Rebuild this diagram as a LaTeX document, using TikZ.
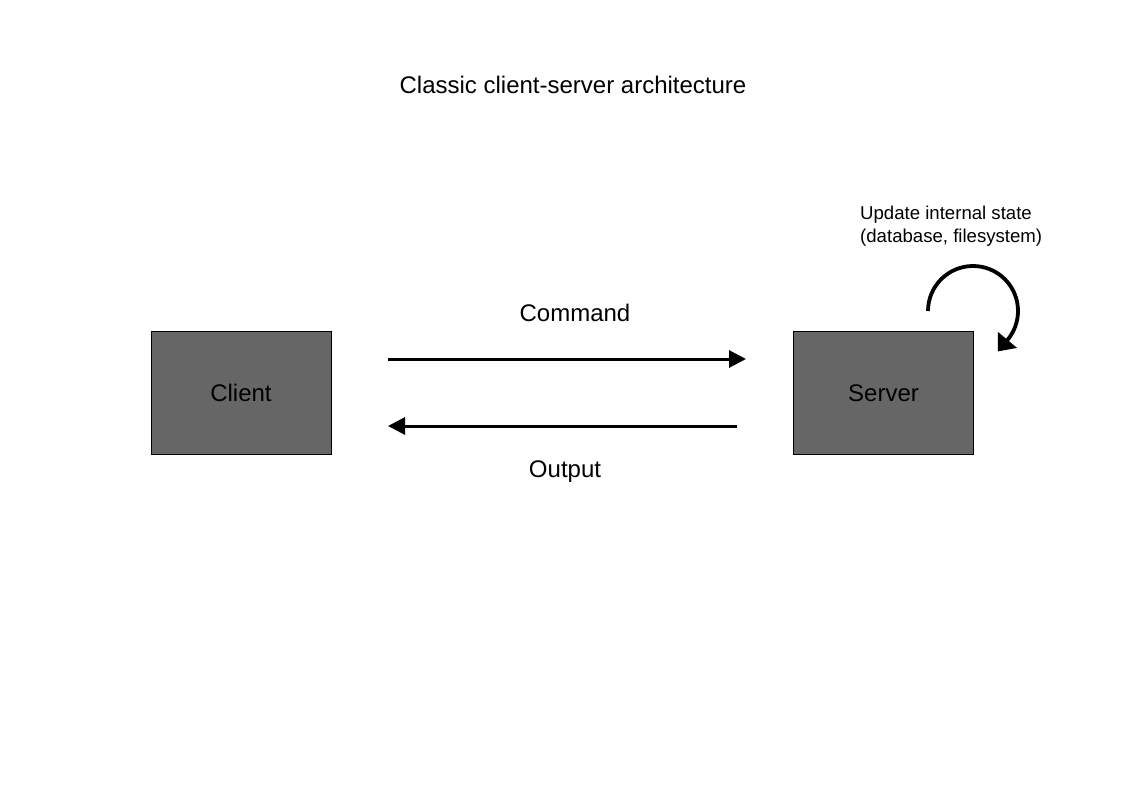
\documentclass[tikz,border=0pt]{standalone}
\usepackage{fontspec}
\setmainfont{Liberation Sans}
\usetikzlibrary{arrows.meta}
\begin{document}
\begin{tikzpicture}[x=1pt,y=-1pt,
  box/.style={draw=black, line width=0.6pt, fill={rgb,255:red,102;green,102;blue,102}, minimum width=180pt, minimum height=123pt, inner sep=0pt, font=\fontsize{24}{28}\selectfont, text height=17.2pt, text depth=0pt},
  lbl/.style={font=\fontsize{24}{28}\selectfont, inner sep=0pt},
  flow/.style={line width=3pt, -{Triangle[length=17pt,width=17pt]}}]
\path[use as bounding box, fill=white] (0,0) rectangle (1123,794);
\node[lbl] (title) at (573,85) {Classic client-server architecture};
\node[box] (client) at (241,392.5) {Client};
\node[box] (server) at (883.5,392.5) {Server};
\coordinate (c1) at (388,359);
\coordinate (c2) at (746,359);
\coordinate (o1) at (737,426);
\coordinate (o2) at (388,426);
\draw[flow] (c1) -- (c2);
\draw[flow] (o1) -- (o2);
\node[lbl] (cmd) at (575,313) {Command};
\node[lbl] (out) at (565,472) {Output};
\node[anchor=base west, inner sep=0pt, font=\fontsize{18.6}{22}\selectfont, align=left] (upd) at (860,242) {Update internal state\\(database, filesystem)};
\coordinate (s) at (928,311);
\draw[line width=3.8pt, -{Triangle[length=15pt,width=24pt]}] (s) arc[start angle=180, end angle=400, radius=45] -- ++(-9.6,11.5);
\end{tikzpicture}
\end{document}
